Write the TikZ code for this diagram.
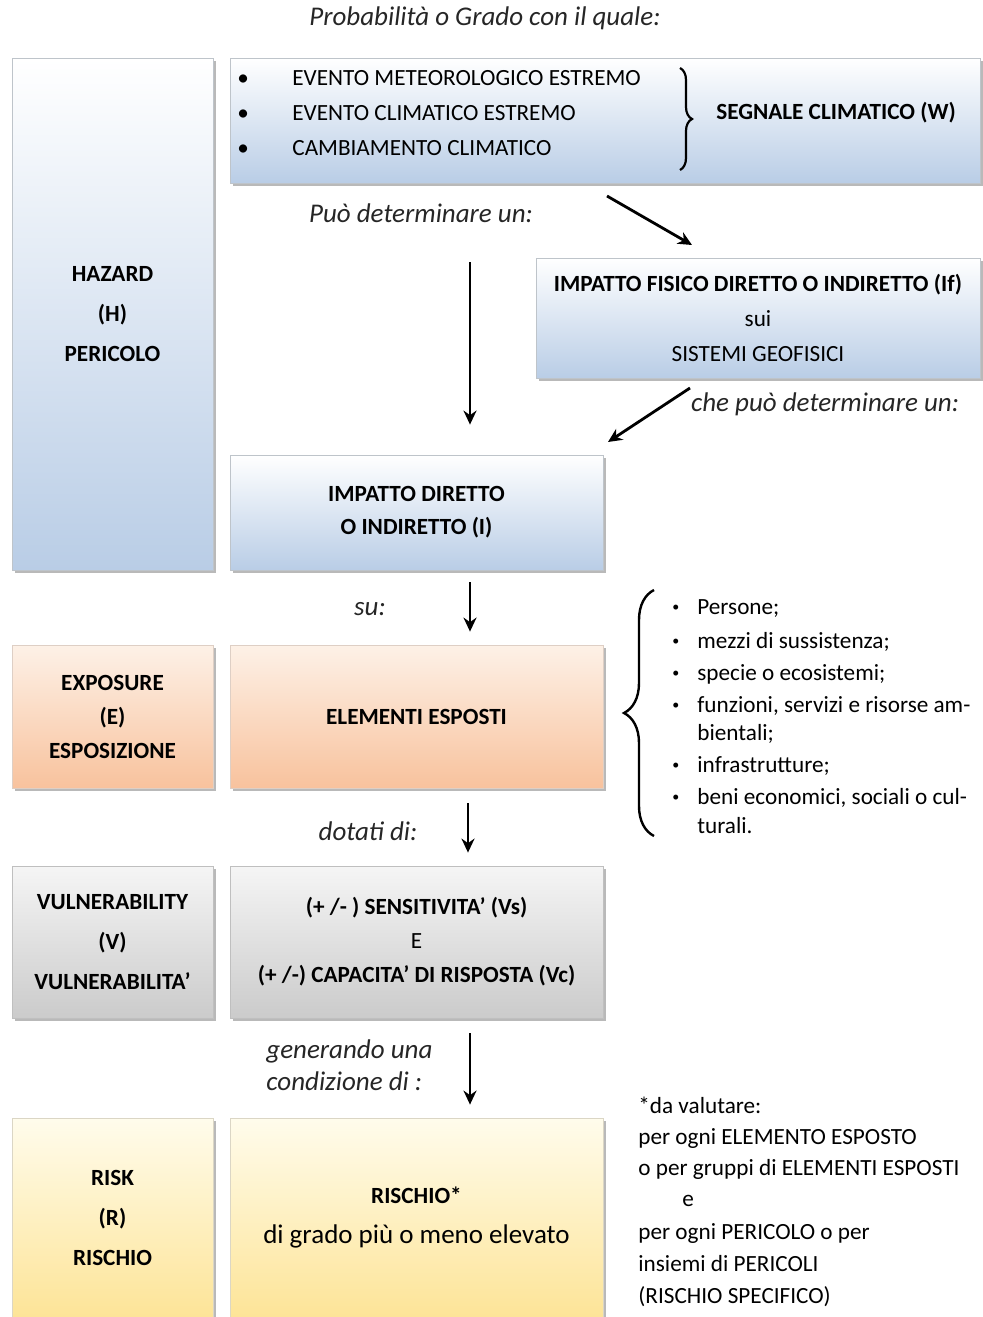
\documentclass[tikz,border=0pt]{standalone}
\usepackage{fontspec}
\setmainfont{Carlito}
\usetikzlibrary{arrows.meta,shadows,decorations.pathreplacing}

\definecolor{bluB}{HTML}{B9CDE6}
\definecolor{oraT}{HTML}{FDF1E7}
\definecolor{oraB}{HTML}{F8C29D}
\definecolor{griT}{HTML}{F5F5F5}
\definecolor{griB}{HTML}{CBCBCB}
\definecolor{gialT}{HTML}{FFFCEC}
\definecolor{gialB}{HTML}{FDE497}
\newcommand\basefont{\fontsize{11.6}{14}\selectfont}

\begin{document}
\begin{tikzpicture}[x=0.5pt, y=-0.5pt, font=\basefont,
  box/.style={rectangle, inner sep=0pt, align=center,
    drop shadow={shadow xshift=1.6pt, shadow yshift=-1.6pt, fill=black!50, opacity=.55}},
  blu/.style={box, draw=bluB!60!black!45, top color=white, bottom color=bluB},
  ora/.style={box, draw=oraB!70!black!40, top color=oraT, bottom color=oraB},
  gri/.style={box, draw=black!25, top color=griT, bottom color=griB},
  gial/.style={box, draw=gialB!60!black!35, top color=gialT, bottom color=gialB},
  says/.style={font=\itshape\fontsize{13.5}{16}\selectfont, text=black!85},
  arr/.style={-{Stealth[length=7pt,width=6.5pt]}, line width=1.4pt}]
  \useasboundingbox (0,0) rectangle (983,1317);

  % colonna sinistra
  \node[blu, minimum width=100.5pt, minimum height=256pt, font=\basefont\bfseries] (haz) at (112.5,314)
    {HAZARD\\[6pt](H)\\[6pt]PERICOLO};
  \node[ora, minimum width=100.5pt, minimum height=71.5pt, font=\basefont\bfseries] (expo) at (112.5,716.5)
    {EXPOSURE\\[3pt](E)\\[3pt]ESPOSIZIONE};
  \node[gri, minimum width=100.5pt, minimum height=76pt, font=\basefont\bfseries] (vuln) at (112.5,942)
    {VULNERABILITY\\[6pt](V)\\[6pt]VULNERABILITA’};
  \node[gial, minimum width=100.5pt, minimum height=100pt, font=\basefont\bfseries] (risk) at (112.5,1218)
    {RISK\\[6pt](R)\\[6pt]RISCHIO};

  % catena centrale
  \node[blu, minimum width=375pt, minimum height=62.5pt] (sig) at (605,120.5) {};
  \foreach \t [count=\i] in {EVENTO METEOROLOGICO ESTREMO, EVENTO CLIMATICO ESTREMO, CAMBIAMENTO CLIMATICO}
    \node[anchor=west, inner sep=0pt] (w\i) at (237,43+35*\i) {\makebox[27.5pt][l]{•}\t};
  \draw[decorate, decoration={brace, amplitude=6pt}, line width=1.1pt] (680,68) -- (680,170);
  \node[font=\basefont\bfseries] (wsig) at (836,113) {SEGNALE CLIMATICO (W)};

  \node[blu, minimum width=222pt, minimum height=60pt] (fis) at (758,318)
    {\textbf{IMPATTO FISICO DIRETTO O INDIRETTO (If)}\\[3.5pt]sui\\[3.5pt]SISTEMI GEOFISICI};
  \node[blu, minimum width=186.5pt, minimum height=57.5pt, font=\basefont\bfseries] (imp) at (416.5,512.5)
    {IMPATTO DIRETTO\\[2.5pt]O INDIRETTO (I)};
  \node[ora, minimum width=186.5pt, minimum height=71.5pt, font=\basefont\bfseries] (elem) at (416.5,716.5)
    {ELEMENTI ESPOSTI};
  \node[gri, minimum width=186.5pt, minimum height=76pt] (sens) at (416.5,942)
    {\textbf{(+ /- ) SENSITIVITA’ (Vs)}\\[3pt]E\\[3pt]\textbf{(+ /-) CAPACITA’ DI RISPOSTA (Vc)}};
  \node[gial, minimum width=186.5pt, minimum height=100pt] (risc) at (416.5,1218)
    {\textbf{RISCHIO*}\\[6pt]{\fontsize{13.5}{16}\selectfont di grado più o meno elevato}};

  % scritte di collegamento
  \node[says] (t0) at (485,18) {Probabilità o Grado con il quale:};
  \node[says] (t1) at (421,213) {Può determinare un:};
  \node[says] (t2) at (825,404) {che può determinare un:};
  \node[says] (t3) at (370,609) {su:};
  \node[says] (t4) at (368,831) {dotati di:};
  \node[says, anchor=west, align=left, inner sep=0pt] (t5) at (266,1065) {generando una\\condizione di :};

  % frecce
  \coordinate (col) at (470,0);
  \coordinate (d1) at (607,196);
  \coordinate (d2) at (692,245);
  \coordinate (d3) at (690,388);
  \coordinate (d4) at (608,442);
  \draw[arr, shorten <=39.5pt, shorten >=15pt] (sig.south -| col) -- (imp.north -| col);
  \draw[arr] (d1) -- (d2);
  \draw[arr] (d3) -- (d4);
  \draw[arr, shorten <=6pt, shorten >=6.5pt] (imp.south -| col) -- (elem.north -| col);
  \draw[arr, shorten <=7.5pt, shorten >=6.5pt] ([xshift=-1pt]elem.south -| col) -- ([xshift=-1pt]sens.north -| col);
  \draw[arr, shorten <=7.5pt, shorten >=6.5pt] (sens.south -| col) -- (risc.north -| col);

  % elenco degli elementi esposti
  \draw[decorate, decoration={brace, amplitude=15pt}, line width=1.2pt] (654,836) -- (654,590);
  \foreach \y/\b/\t [count=\i] in {614/•/{Persone;}, 648/•/{mezzi di sussistenza;},
      680/•/{specie o ecosistemi;}, 712/•/{funzioni, servizi e risorse am-},
      740//{bientali;}, 772/•/{infrastrutture;}, 804/•/{beni economici, sociali o cul-},
      833//{turali.}}
    \node[anchor=base west, inner sep=0pt] (e\i) at (697,\y)
      {\llap{\raisebox{1.5pt}{\fontsize{7}{8}\selectfont\b}\hspace{9pt}}\t};

  % nota sul rischio
  \foreach \y/\t [count=\i] in {1113/{*da valutare:}, 1144/{per ogni ELEMENTO ESPOSTO},
      1175/{o per gruppi di ELEMENTI ESPOSTI}, 1206/{\hspace{22pt}e},
      1239/{per ogni PERICOLO o per}, 1271/{insiemi di PERICOLI}, 1303/{(RISCHIO SPECIFICO)}}
    \node[anchor=base west, inner sep=0pt] (n\i) at (638,\y) {\t};
\end{tikzpicture}
\end{document}
